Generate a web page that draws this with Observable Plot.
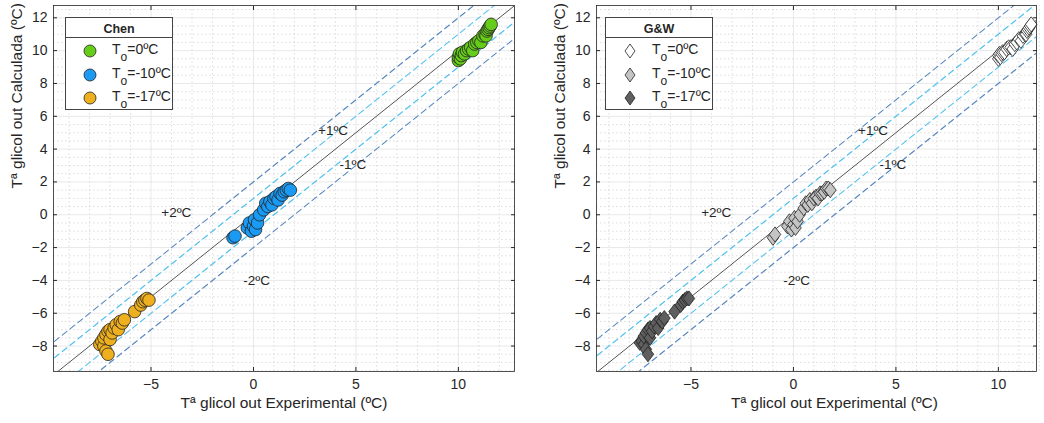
<!DOCTYPE html>
<html><head><meta charset="utf-8">
<script src="https://cdn.jsdelivr.net/npm/d3@7"></script>
<script src="https://cdn.jsdelivr.net/npm/@observablehq/plot@0.6"></script>
<style>
body{margin:0;background:#fff;font-family:"Liberation Sans",Arial,sans-serif;}
#wrap{position:relative;width:1044px;height:423px;display:flex;}
.legend{position:absolute;border:1px solid #444;background:#fff;color:#262626;box-sizing:border-box;}
.legend .title{font-weight:bold;font-size:12.5px;text-align:center;height:19px;line-height:22px;border-bottom:1px solid #444;}
.legend .row{position:absolute;left:0;font-size:14px;white-space:nowrap;}
.legend sub{font-size:12px;vertical-align:-7px;}
</style></head><body><div id="wrap"></div><script>
// ---- data ----
const seriesNames = ["0ºC", "-10ºC", "-17ºC"];
// To = 0ºC
const exp0  = [10.0, 10.0, 10.05, 10.1, 10.15, 10.2, 10.3, 10.4, 10.5, 10.6, 10.7, 10.8, 10.9, 11.0, 11.1, 11.2, 11.3, 11.35, 11.4, 11.45, 11.5, 11.55, 11.6];
const chen0 = [9.4, 9.6, 9.8, 9.5, 9.7, 9.9, 9.8, 10.0, 10.1, 10.2, 10.0, 10.4, 10.5, 10.6, 10.5, 10.9, 11.0, 10.9, 11.2, 11.3, 11.4, 11.5, 11.6];
const gw0   = [9.5, 9.7, 9.8, 9.6, 9.8, 9.9, 9.9, 10.1, 10.2, 10.2, 10.1, 10.4, 10.5, 10.7, 10.6, 10.9, 11.0, 11.0, 11.2, 11.3, 11.4, 11.5, 11.6];
// To = -10ºC
const exp10  = [-1.0, -0.9, -0.3, -0.2, -0.1, 0.0, 0.05, 0.1, 0.2, 0.3, 0.5, 0.6, 0.7, 0.8, 0.9, 1.0, 1.1, 1.2, 1.3, 1.4, 1.5, 1.6, 1.7, 1.8];
const chen10 = [-1.4, -1.3, -0.8, -0.5, -1.0, -0.7, -0.3, -0.9, -0.5, 0.0, 0.3, 0.7, 0.5, 0.8, 0.6, 1.0, 1.1, 0.9, 1.3, 1.2, 1.4, 1.5, 1.6, 1.5];
const gw10   = [-1.4, -1.2, -0.7, -0.4, -0.9, -0.6, -0.2, -0.8, -0.4, 0.0, 0.4, 0.7, 0.6, 0.9, 0.7, 1.0, 1.1, 1.0, 1.3, 1.3, 1.4, 1.6, 1.6, 1.5];
// To = -17ºC
const exp17  = [-7.5, -7.4, -7.3, -7.3, -7.2, -7.2, -7.1, -7.1, -7.0, -7.0, -6.9, -6.8, -6.7, -6.6, -6.5, -6.4, -6.3, -5.8, -5.5, -5.4, -5.3, -5.2, -5.1];
const chen17 = [-7.9, -7.7, -8.0, -7.5, -8.3, -7.3, -8.5, -7.1, -7.6, -7.0, -7.2, -6.9, -6.7, -7.0, -6.5, -6.6, -6.4, -5.9, -5.5, -5.3, -5.2, -5.1, -5.2];
const gw17   = [-7.8, -7.7, -7.9, -7.4, -8.2, -7.2, -8.5, -7.0, -7.5, -6.9, -7.1, -6.8, -6.6, -6.9, -6.4, -6.5, -6.3, -5.9, -5.5, -5.3, -5.2, -5.1, -5.1];

const xTicks = [-5, 0, 5, 10];
const yTicks = [-8, -6, -4, -2, 0, 2, 4, 6, 8, 10, 12];
const bandOffsets = [1, -1, 2, -2];
const bandLabels = ["+1ºC", "-1ºC", "+2ºC", "-2ºC"];
const bandLabelX = [3.15, 4.2, -4.5, -0.5];
const bandLabelY = [5.1, 3.05, 0.1, -4.0];

const chenColors = ["#66cc1a", "#1a9af2", "#efb020"];
const gwColors = ["#ffffff", "#c4c4c4", "#5f5f5f"];

function rows(exps, calcs) {
  const out = [];
  exps.forEach((ex, s) => ex.forEach((v, i) => out.push({s, x: v, y: calcs[s][i]})));
  return out;
}
const chenRows = rows([exp0, exp10, exp17], [chen0, chen10, chen17]);
const gwRows = rows([exp0, exp10, exp17], [gw0, gw10, gw17]);

const FONT = '"Liberation Sans", Arial, sans-serif';

// MATLAB-like diamond (wider than d3's)
const rhombus = {
  draw(ctx, size) {
    const r = Math.sqrt(size / Math.PI);
    const hh = r * 1.2, hw = r * 0.92;
    ctx.moveTo(0, -hh); ctx.lineTo(hw, 0); ctx.lineTo(0, hh); ctx.lineTo(-hw, 0); ctx.closePath();
  }
};

function panel(data, cfg) {
  const [x0, x1] = cfg.xDomain, [y0, y1] = cfg.yDomain;
  const lo = Math.min(x0, y0) - 3, hi = Math.max(x1, y1) + 3;
  const diag = (o) => [{x: lo, y: lo + o}, {x: hi, y: hi + o}];
  const minorGrey = {stroke: "#cfcfcf", strokeOpacity: 1, strokeDasharray: "1.5,2.5", strokeWidth: 0.7};
  const majorGrey = {stroke: "#e2e2e2", strokeOpacity: 1, strokeWidth: 0.8};
  const marks = [
    Plot.gridX(d3.range(-9, 13, 1).filter(v => !xTicks.includes(v)), minorGrey),
    Plot.gridY(d3.range(-9.5, 13, 0.5).filter(v => !yTicks.includes(v)), minorGrey),
    Plot.gridX(xTicks, majorGrey),
    Plot.gridY(yTicks, majorGrey),
    Plot.line(diag(0), {x: "x", y: "y", stroke: "#555", strokeWidth: 1, clip: true}),
    ...bandOffsets.map(o => Plot.line(diag(o), {x: "x", y: "y", clip: true,
      stroke: Math.abs(o) === 1 ? "#4dc0ee" : "#5586bf", strokeWidth: 1.1, strokeDasharray: "6,4"})),
    Plot.text(bandLabels, {x: (d, i) => bandLabelX[i], y: (d, i) => bandLabelY[i], text: d => d,
      textAnchor: "start", fontSize: 13.5, fill: "#262626"}),
    cfg.symbol === "circle"
      ? Plot.dot(data, {x: "x", y: "y", r: 6.3, fill: d => cfg.colors[d.s], stroke: "#222", strokeWidth: 0.8})
      : Plot.dot(data, {x: "x", y: "y", r: 6.3, symbol: rhombus, fill: d => cfg.colors[d.s], stroke: "#222", strokeWidth: 0.8}),
    Plot.frame({stroke: "#262626", strokeWidth: 0.8}),
    Plot.axisX(xTicks, {anchor: "bottom", tickSize: -4, text: null, stroke: "#262626"}),
    Plot.axisX(xTicks, {anchor: "top", tickSize: -4, text: null, stroke: "#262626"}),
    Plot.axisY(yTicks, {anchor: "left", tickSize: -4, text: null, stroke: "#262626"}),
    Plot.axisY(yTicks, {anchor: "right", tickSize: -4, text: null, stroke: "#262626"}),
    Plot.axisX(xTicks, {anchor: "bottom", tickSize: 0, tickPadding: 8, fontSize: 14, fill: "#262626", label: null}),
    Plot.axisY(yTicks, {anchor: "left", tickSize: 0, tickPadding: 6, fontSize: 14, fill: "#262626", label: null}),
    Plot.text(["Tª glicol out Experimental (ºC)"], {frameAnchor: "bottom", dy: 36, dx: cfg.xLabelDx, fontSize: 15.5, fill: "#262626"}),
    Plot.text(["Tª glicol out Calculada (ºC)"], {frameAnchor: "left", dx: -36, rotate: -90, fontSize: 15.5, fill: "#262626"})
  ];
  return Plot.plot({
    width: cfg.width, height: 423,
    marginLeft: cfg.marginLeft, marginRight: cfg.marginRight, marginTop: 5, marginBottom: 52,
    x: {domain: cfg.xDomain, label: null},
    y: {domain: cfg.yDomain, label: null},
    style: {fontFamily: FONT, fontSize: "13px", color: "#262626", background: "#fff", overflow: "visible"},
    marks
  });
}

const wrap = document.getElementById("wrap");
wrap.appendChild(panel(chenRows, {width: 522, marginLeft: 53, marginRight: 8,
  xDomain: [-9.76, 12.74], yDomain: [-9.55, 12.75], colors: chenColors, symbol: "circle", xLabelDx: 0}));
wrap.appendChild(panel(gwRows, {width: 522, marginLeft: 74, marginRight: 8,
  xDomain: [-9.61, 11.86], yDomain: [-9.55, 12.75], colors: gwColors, symbol: "diamond", xLabelDx: 18}));

function legend(left, title, colors, symbol) {
  const div = document.createElement("div");
  div.className = "legend";
  div.style.left = left + "px"; div.style.top = "17px";
  div.style.width = "108px"; div.style.height = "93px";
  div.innerHTML = `<div class="title">${title}</div>`;
  seriesNames.forEach((name, i) => {
    const row = document.createElement("div");
    row.className = "row";
    row.style.top = (25 + i * 23.5) + "px";
    const shape = symbol === "circle"
      ? `<circle cx="8" cy="8" r="6" fill="${colors[i]}" stroke="#222" stroke-width="0.8"/>`
      : `<path d="M8,1L13,8L8,15L3,8Z" fill="${colors[i]}" stroke="#222" stroke-width="0.8"/>`;
    row.innerHTML = `<svg width="16" height="16" style="position:absolute;left:16px;top:0">${shape}</svg>` +
      `<span style="position:absolute;left:46px;top:-2px">T<sub>o</sub>=${name}</span>`;
    div.appendChild(row);
  });
  wrap.appendChild(div);
}
legend(65, "Chen", chenColors, "circle");
legend(605, "G&amp;W", gwColors, "diamond");
</script></body></html>
